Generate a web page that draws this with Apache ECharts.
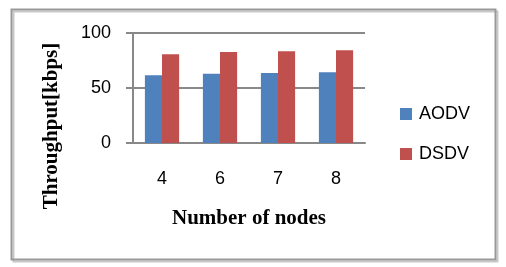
<!DOCTYPE html>
<html><head><meta charset="utf-8">
<script src="https://cdn.jsdelivr.net/npm/echarts@6/dist/echarts.min.js"></script>
<style>html,body{margin:0;padding:0;background:#fff}#c{width:506px;height:267px}</style>
</head><body><div id="c"></div>
<script>
const categories = ['4', '6', '7', '8'];
const aodv = [61.5, 63, 63.6, 64.3];
const dsdv = [80.6, 82.7, 83.4, 84.3];
const seriesNames = ['AODV', 'DSDV'];
const yTitle = 'Throughput[kbps]';
const xTitle = 'Number of nodes';

const chart = echarts.init(document.getElementById('c'), null, {renderer: 'canvas'});
chart.setOption({
  animation: false,
  backgroundColor: '#fff',
  graphic: [
    {type: 'rect', left: 11, top: 9, shape: {width: 484, height: 250}, style: {fill: 'none', stroke: '#c8c8c8', lineWidth: 2}, z: 0},
    {type: 'rect', left: 9, top: 7, shape: {width: 484, height: 250}, style: {fill: 'none', stroke: '#999', lineWidth: 2}, z: 1},
    {type: 'text', x: 52, y: 126, rotation: Math.PI / 2, z: 5,
     style: {text: yTitle, font: 'bold 21px "Liberation Serif"', fill: '#000', textAlign: 'center', textVerticalAlign: 'middle'}}
  ],
  grid: {left: 133, right: 141, top: 33, bottom: 124, containLabel: false},
  legend: {
    orient: 'vertical', left: 395, top: 100, itemWidth: 12, itemHeight: 12, itemGap: 22,
    icon: 'rect',
    textStyle: {fontFamily: 'Liberation Sans', fontSize: 18, color: '#000', padding: [0,0,0,2]},
    data: seriesNames
  },
  xAxis: {
    type: 'category', data: categories,
    name: xTitle, nameLocation: 'middle', nameGap: 65,
    nameTextStyle: {fontFamily: 'Liberation Serif', fontWeight: 'bold', fontSize: 21, color: '#000'},
    axisLine: {lineStyle: {color: '#888', width: 2}},
    axisTick: {show: false},
    axisLabel: {fontFamily: 'Liberation Sans', fontSize: 18, color: '#000', margin: 27}
  },
  yAxis: {
    type: 'value', min: 0, max: 100, interval: 50,
    axisLine: {show: true, lineStyle: {color: '#888', width: 2}},
    axisTick: {show: true, length: 7, lineStyle: {color: '#888', width: 2}},
    splitLine: {lineStyle: {color: '#888', width: 2}},
    axisLabel: {fontFamily: 'Liberation Sans', fontSize: 18, color: '#000', margin: 22}
  },
  series: [
    {name: seriesNames[0], type: 'bar', data: aodv, barGap: '0%', barCategoryGap: '41%', itemStyle: {color: '#4F81BD'}},
    {name: seriesNames[1], type: 'bar', data: dsdv, itemStyle: {color: '#C0504D'}}
  ]
});
</script></body></html>
